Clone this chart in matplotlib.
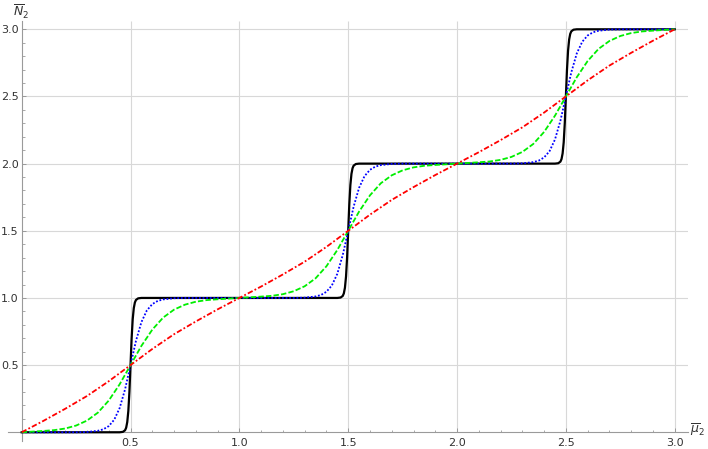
import matplotlib
matplotlib.use("Agg")
import matplotlib.pyplot as plt

# ---------------- data ----------------
black_x = [0.0, 0.45, 0.465, 0.475, 0.48, 0.485, 0.49, 0.495, 0.5, 0.505, 0.51, 0.515, 0.52, 0.525, 0.535, 0.55,
           1.45, 1.465, 1.475, 1.48, 1.485, 1.49, 1.495, 1.5, 1.505, 1.51, 1.515, 1.52, 1.525, 1.535, 1.55,
           2.45, 2.465, 2.475, 2.48, 2.485, 2.49, 2.495, 2.5, 2.505, 2.51, 2.515, 2.52, 2.525, 2.535, 2.55,
           3.0]
black_y = [0.0, 0.0, 0.003, 0.015, 0.034, 0.076, 0.159, 0.303, 0.5, 0.697, 0.841, 0.924, 0.966, 0.985, 0.997, 1.0,
           1.0, 1.003, 1.015, 1.034, 1.076, 1.159, 1.303, 1.5, 1.697, 1.841, 1.924, 1.966, 1.985, 1.997, 2.0,
           2.0, 2.003, 2.015, 2.034, 2.076, 2.159, 2.303, 2.5, 2.697, 2.841, 2.924, 2.966, 2.985, 2.997, 3.0,
           3.0]

blue_x = [0.0, 0.2, 0.25, 0.3, 0.35, 0.375, 0.4, 0.425, 0.45, 0.475, 0.5, 0.525, 0.55, 0.575, 0.6, 0.625, 0.65, 0.7, 0.75, 0.8,
          1.2, 1.25, 1.3, 1.35, 1.375, 1.4, 1.425, 1.45, 1.475, 1.5, 1.525, 1.55, 1.575, 1.6, 1.625, 1.65, 1.7, 1.75, 1.8,
          2.2, 2.25, 2.3, 2.35, 2.375, 2.4, 2.425, 2.45, 2.475, 2.5, 2.525, 2.55, 2.575, 2.6, 2.625, 2.65, 2.7, 2.75, 2.8,
          3.0]
blue_y = [0.0, 0.0, 0.0, 0.002, 0.011, 0.022, 0.046, 0.093, 0.18, 0.32, 0.5, 0.68, 0.82, 0.907, 0.954, 0.978, 0.989, 0.998, 1.0, 1.0,
          1.0, 1.0, 1.002, 1.011, 1.022, 1.046, 1.093, 1.18, 1.32, 1.5, 1.68, 1.82, 1.907, 1.954, 1.978, 1.989, 1.998, 2.0, 2.0,
          2.0, 2.0, 2.002, 2.011, 2.022, 2.046, 2.093, 2.18, 2.32, 2.5, 2.68, 2.82, 2.907, 2.954, 2.978, 2.989, 2.998, 3.0, 3.0,
          3.0]

green_x = [0.0, 0.05, 0.1, 0.15, 0.2, 0.25, 0.3, 0.35, 0.4, 0.45, 0.5, 0.55, 0.6, 0.65, 0.7, 0.75, 0.8, 0.85, 0.9, 0.95,
           1.0, 1.05, 1.1, 1.15, 1.2, 1.25, 1.3, 1.35, 1.4, 1.45, 1.5, 1.55, 1.6, 1.65, 1.7, 1.75, 1.8, 1.85, 1.9, 1.95,
           2.0, 2.05, 2.1, 2.15, 2.2, 2.25, 2.3, 2.35, 2.4, 2.45, 2.5, 2.55, 2.6, 2.65, 2.7, 2.75, 2.8, 2.85, 2.9, 2.95,
           3.0]
green_y = [0.0, 0.005, 0.01, 0.016, 0.028, 0.05, 0.087, 0.146, 0.236, 0.357, 0.5, 0.643, 0.764, 0.854, 0.913, 0.95, 0.972, 0.984, 0.99, 0.995,
           1.0, 1.005, 1.01, 1.016, 1.028, 1.05, 1.087, 1.146, 1.236, 1.357, 1.5, 1.643, 1.764, 1.854, 1.913, 1.95, 1.972, 1.984, 1.99, 1.995,
           2.0, 2.005, 2.01, 2.016, 2.028, 2.05, 2.087, 2.146, 2.236, 2.357, 2.5, 2.643, 2.764, 2.854, 2.913, 2.95, 2.972, 2.984, 2.99, 2.995,
           3.0]

red_x = [0.0, 0.1, 0.2, 0.3, 0.4, 0.5, 0.6, 0.7, 0.8, 0.9,
         1.0, 1.1, 1.2, 1.3, 1.4, 1.5, 1.6, 1.7, 1.8, 1.9,
         2.0, 2.1, 2.2, 2.3, 2.4, 2.5, 2.6, 2.7, 2.8, 2.9,
         3.0]
red_y = [0.0, 0.085, 0.175, 0.27, 0.38, 0.5, 0.62, 0.73, 0.825, 0.915,
         1.0, 1.085, 1.175, 1.27, 1.38, 1.5, 1.62, 1.73, 1.825, 1.915,
         2.0, 2.085, 2.175, 2.27, 2.38, 2.5, 2.62, 2.73, 2.825, 2.915,
         3.0]

major_ticks = [0.5, 1.0, 1.5, 2.0, 2.5, 3.0]
tick_labels = ["0.5", "1.0", "1.5", "2.0", "2.5", "3.0"]
minor_ticks = [0.1, 0.2, 0.3, 0.4, 0.6, 0.7, 0.8, 0.9, 1.1, 1.2, 1.3, 1.4, 1.6, 1.7, 1.8, 1.9,
               2.1, 2.2, 2.3, 2.4, 2.6, 2.7, 2.8, 2.9]
xlabel = r"$\overline{\mu}_2$"
ylabel = r"$\overline{N}_2$"

# ---------------- figure ----------------
plt.rcParams["font.family"] = ["DejaVu Sans"]
plt.rcParams["mathtext.fontset"] = "dejavusans"

W, H = 708, 449
fig = plt.figure(figsize=(W / 100, H / 100), dpi=100)
ax = fig.add_axes([8.4 / W, (H - 440.6) / H, (688 - 8.4) / W, (440.6 - 20.7) / H])
xmin, xmax = -0.061, 3.061
ymin, ymax = -0.062, 3.064
ax.set_xlim(xmin, xmax)
ax.set_ylim(ymin, ymax)

axis_col = "#9a9a9a"
grid_col = "#d8d8d8"

for t in major_ticks:
    ax.plot([t, t], [0, ymax], color=grid_col, lw=0.8, zorder=0.5, solid_capstyle="butt")
    ax.plot([0, xmax], [t, t], color=grid_col, lw=0.8, zorder=0.5, solid_capstyle="butt")

for s in ("top", "right"):
    ax.spines[s].set_visible(False)
for s in ("left", "bottom"):
    ax.spines[s].set_position(("data", 0))
    ax.spines[s].set_color(axis_col)
    ax.spines[s].set_linewidth(0.8)

ax.set_xticks(major_ticks)
ax.set_xticklabels(tick_labels)
ax.set_yticks(major_ticks)
ax.set_yticklabels(tick_labels)
ax.set_xticks(minor_ticks, minor=True)
ax.set_yticks(minor_ticks, minor=True)
ax.tick_params(which="major", direction="in", length=3.0, width=0.7, color=axis_col,
               labelsize=8, labelcolor="#333333")
ax.tick_params(which="minor", direction="in", length=1.8, width=0.6, color=axis_col)
ax.tick_params(axis="x", which="major", pad=4.2)
ax.tick_params(axis="y", which="major", pad=2.2)

lw = 1.3
ax.plot(black_x, black_y, color="black", lw=1.6, zorder=3)
ax.plot(blue_x, blue_y, color="#0000ff", lw=lw, linestyle=(0, (1, 1)), zorder=3)
ax.plot(green_x, green_y, color="#00ee00", lw=lw, linestyle=(0, (3, 1.2)), zorder=3)
ax.plot(red_x, red_y, color="#ff0000", lw=lw, linestyle=(0, (3, 1.2, 1, 1.2)), zorder=3)

fig.text(13 / W, 1 - 3 / H, ylabel, ha="left", va="top", fontsize=9, color="#333333")
fig.text(690 / W, 1 - 433 / H, xlabel, ha="left", va="baseline", fontsize=9, color="#333333")

fig.savefig("out.png", dpi=100)
